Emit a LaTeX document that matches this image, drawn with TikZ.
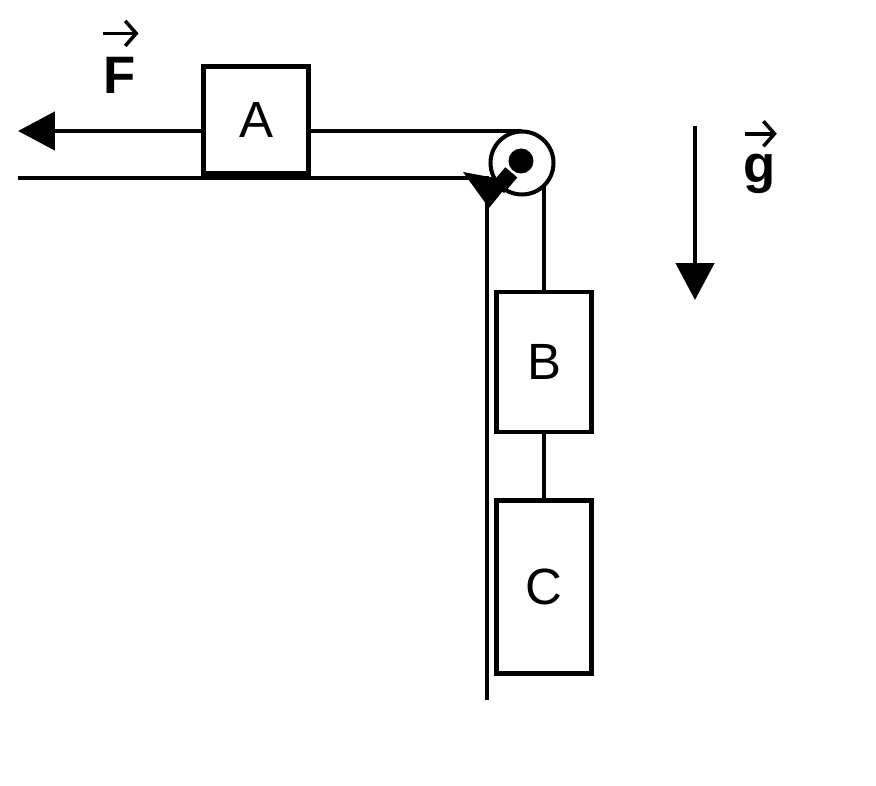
\documentclass[tikz,border=0pt]{standalone}
\usepackage{fontspec}
\setmainfont{Liberation Sans}
\usetikzlibrary{arrows.meta,positioning}
\begin{document}
\begin{tikzpicture}[x=0.02cm, y=-0.02cm, line width=2.8pt,
  mass node/.style={rectangle,draw,fill=white,line width=2.8pt,inner sep=0pt,font=\fontsize{29}{35}\selectfont},
  vec node/.style={inner sep=0pt,font=\fontsize{30}{36}\selectfont\bfseries},
  vec arrow/.style={line width=2pt,-{Straight Barb[length=2.2mm,width=5mm]}},
  big tip/.style={-{Triangle[length=0.74cm,width=0.76cm]}}]
\useasboundingbox (0,0) rectangle (876,786);
% table and its edge
\coordinate (corner) at (487,178);
\coordinate (tableend) at (18,178);
\coordinate (edgeend) at (487,700);
\draw (tableend) -- (corner) -- (edgeend);
% pulley
\node [circle,draw,line width=2.3pt,minimum size=1.26cm,inner sep=0pt](pulley) at (522,163) {};
\node [circle,fill,minimum size=0.5cm,inner sep=0pt](axle) at (521,161) {};
\draw [line width=9pt] (axle) -- (498,188);
\fill (463,172) -- (489,208) -- (511,181) -- cycle;
% masses
\node [mass node,minimum width=2.1cm,minimum height=2.14cm](A) at (256,120) {A};
\node [mass node,minimum width=1.9cm,minimum height=2.8cm](B) at (544,362) {B};
\node [mass node,minimum width=1.9cm,minimum height=3.46cm](C) at (544,587) {C};
% strings
\coordinate (ptop) at (522,131);
\draw (A.east |- ptop) -- (ptop);
\draw (B.north |- pulley.south east) -- (B.north);
\draw (B.south) -- (C.north);
% force and gravity
\coordinate (Ftip) at (18,131);
\draw [big tip] (A.west |- ptop) -- (Ftip);
\coordinate (gtop) at (695,126);
\coordinate (gtip) at (695,300);
\draw [big tip] (gtop) -- (gtip);
\node [vec node](Flab) at (120,75) {F};
\draw [vec arrow] ([yshift=0.42cm,xshift=1pt]Flab.north west) -- ([yshift=0.42cm]Flab.north east);
\node [vec node](glab) at (760,174) {g};
\draw [vec arrow] ([yshift=0.36cm,xshift=2pt]glab.north west) -- ([yshift=0.36cm,xshift=-1pt]glab.north east);
\end{tikzpicture}
\end{document}
